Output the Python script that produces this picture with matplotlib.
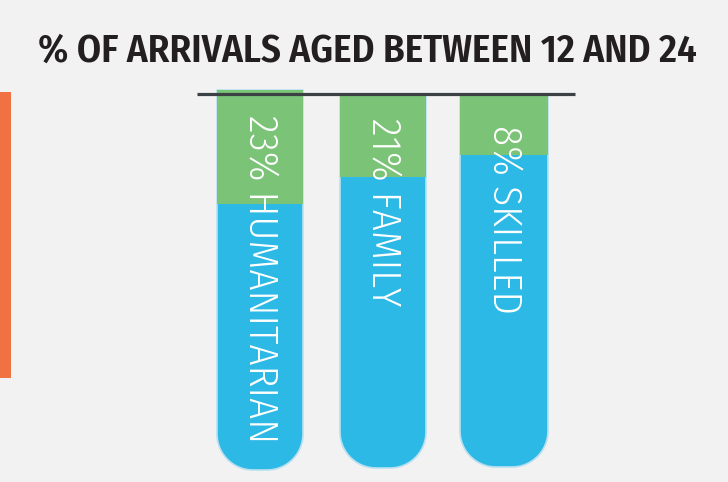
import numpy as np
import matplotlib
matplotlib.use("Agg")
import matplotlib.pyplot as plt
from matplotlib.path import Path
from matplotlib.patches import PathPatch, Rectangle

# ---- data ----
categories = ["HUMANITARIAN", "FAMILY", "SKILLED"]
percentages = [23, 21, 8]
# fraction of each tube that is filled green
fill_levels = [0.30, 0.22, 0.16]
title = "% OF ARRIVALS AGED BETWEEN 12 AND 24"

BG = "#f2f2f2"
GREEN = "#7bc477"
BLUE = "#2db9e5"
ORANGE = "#f07142"
LINE = "#3b4045"
TITLE_FONT = ["Fira Sans Condensed", "PT Sans Narrow", "DejaVu Sans"]
LABEL_FONT = ["Fira Sans Condensed", "PT Sans Narrow", "DejaVu Sans"]

W, H = 728, 482
fig = plt.figure(figsize=(W / 100, H / 100), dpi=100, facecolor=BG)
ax = fig.add_axes([0, 0, 1, 1])
ax.set_xlim(0, W)
ax.set_ylim(H, 0)
ax.axis("off")
ax.set_facecolor(BG)

# tube geometry (pixels)
centers = [260, 383, 504]
half_w = [43, 43, 44]
tops = [90, 95, 95]
bottoms = [470, 468, 467]
radius = 36


def tube_path(cx, hw, top, bottom, r):
    left, right = cx - hw, cx + hw
    verts = [(left, top), (left, bottom - r)]
    t = np.linspace(np.pi, np.pi / 2, 20)
    verts += [(left + r + r * np.cos(a), bottom - r + r * np.sin(a)) for a in t]
    verts += [(right - r, bottom)]
    t = np.linspace(np.pi / 2, 0, 20)
    verts += [(right - r + r * np.cos(a), bottom - r + r * np.sin(a)) for a in t]
    verts += [(right, top), (left, top)]
    codes = [Path.MOVETO] + [Path.LINETO] * (len(verts) - 2) + [Path.CLOSEPOLY]
    return Path(verts, codes)


for i, (cat, pct, lvl) in enumerate(zip(categories, percentages, fill_levels)):
    cx, hw, top, bot = centers[i], half_w[i], tops[i], bottoms[i]
    p = tube_path(cx, hw, top, bot, radius)
    body = PathPatch(p, facecolor=BLUE, edgecolor="#b9e0f0", lw=1.2, zorder=2)
    ax.add_patch(body)
    green_h = lvl * (bot - top)
    g = Rectangle((cx - hw - 1, top), 2 * hw + 2, green_h, facecolor=GREEN,
                  edgecolor="none", zorder=3)
    ax.add_patch(g)
    g.set_clip_path(PathPatch(p, transform=ax.transData))

# horizontal rule
ax.plot([197, 575], [94, 94], color=LINE, lw=2.3, solid_capstyle="butt", zorder=5)

# orange side bar
ax.add_patch(Rectangle((0, 92), 11, 286, facecolor=ORANGE, edgecolor="none", zorder=2))

fig.canvas.draw()
renderer = fig.canvas.get_renderer()

# title, fitted to the reference width
t = ax.text(367, 51, title, ha="center", va="center", color="#231f20",
            fontsize=22, fontweight=600, family=TITLE_FONT, zorder=6)
bb = t.get_window_extent(renderer)
t.set_fontsize(22 * 660 / bb.width)

# labels inside tubes
label_fs = 28
label_starts = [115, 118, 125]
txts = []
for i, (cat, pct) in enumerate(zip(categories, percentages)):
    tx = ax.text(centers[i] + 1, label_starts[i], f"{pct}% {cat}", rotation=-90,
                 ha="center", va="top", color="white", fontsize=label_fs,
                 fontweight=300, family=LABEL_FONT, zorder=6)
    txts.append(tx)
bb = txts[0].get_window_extent(renderer)
scale = 328 / bb.height
for tx in txts:
    tx.set_fontsize(label_fs * scale)

fig.savefig("out.png", dpi=100, facecolor=BG)
